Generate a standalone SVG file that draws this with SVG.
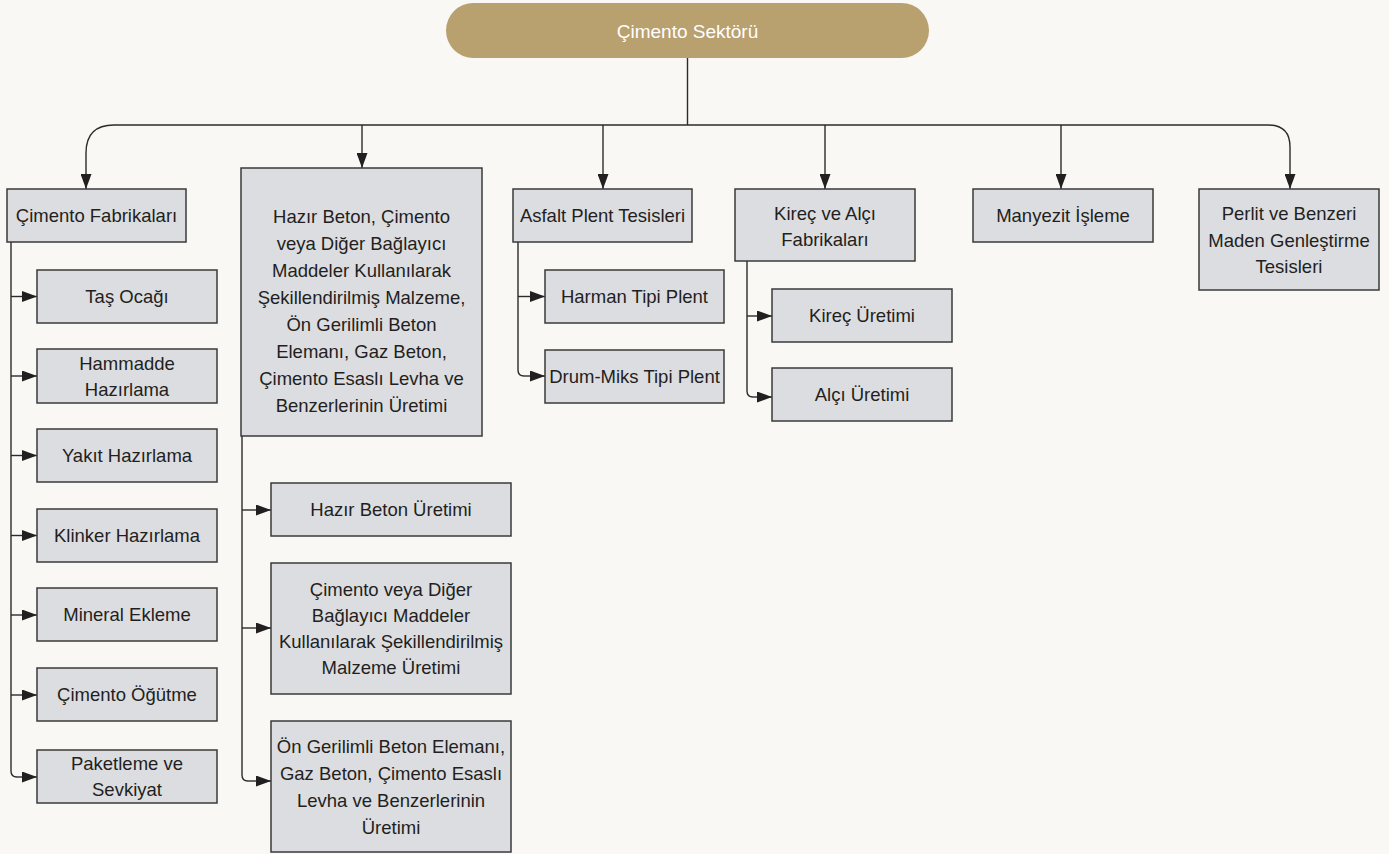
<svg xmlns="http://www.w3.org/2000/svg" width="1389" height="854" viewBox="0 0 1389 854">
<defs>
<marker id="ah" markerUnits="userSpaceOnUse" markerWidth="15" markerHeight="11" refX="15" refY="5.5" orient="auto">
<path d="M0,0 L15,5.5 L0,11 z" fill="#231f20"/>
</marker>
<style>
.bx{fill:#dcdde0;stroke:#3a3a3a;stroke-width:1.5}
.t{font-family:"Liberation Sans",Arial,sans-serif;font-size:18.5px;fill:#231f20;text-anchor:middle}
.c{fill:none;stroke:#2b2b2b;stroke-width:1.4}
.ca{fill:none;stroke:#2b2b2b;stroke-width:1.4;marker-end:url(#ah)}
</style>
</defs>
<rect x="0" y="0" width="1389" height="854" fill="#f9f8f4"/>

<g id="connectors">
<path class="c" d="M687.5,58 V125"/>
<path class="c" d="M114,125 H1268"/>
<path class="ca" d="M114,125 Q86,125 86,153 V189"/>
<path class="ca" d="M1268,125 Q1290,125 1290,147 V189"/>
<path class="ca" d="M362,125 V168"/>
<path class="ca" d="M603,125 V189"/>
<path class="ca" d="M825,125 V189"/>
<path class="ca" d="M1061,125 V189"/>

<path class="c" d="M11,242 V771 Q11,777 17,777"/>
<path class="ca" d="M11,296.5 H37"/>
<path class="ca" d="M11,376 H37"/>
<path class="ca" d="M11,455.5 H37"/>
<path class="ca" d="M11,535.5 H37"/>
<path class="ca" d="M11,615 H37"/>
<path class="ca" d="M11,695 H37"/>
<path class="ca" d="M17,777 H37"/>

<path class="c" d="M242,436 V775 Q242,781 248,781"/>
<path class="ca" d="M242,510 H271"/>
<path class="ca" d="M242,628 H271"/>
<path class="ca" d="M248,781 H271"/>

<path class="c" d="M518,242 V370 Q518,376 524,376"/>
<path class="ca" d="M518,296.5 H545"/>
<path class="ca" d="M524,376 H545"/>

<path class="c" d="M747,261 V391 Q747,397 753,397"/>
<path class="ca" d="M747,316 H772"/>
<path class="ca" d="M753,397 H772"/>
</g>

<g id="root">
<rect x="446" y="3" width="483" height="55" rx="27.5" fill="#b9a06f"/>
<text x="687.5" y="37.5" style="font-family:'Liberation Sans',Arial,sans-serif;font-size:19px;fill:#ffffff;text-anchor:middle">Çimento Sektörü</text>
</g>

<g id="cimento-fabrikalari">
<rect class="bx" x="7" y="189" width="179" height="53"/>
<text class="t" x="96.5" y="222">Çimento Fabrikaları</text>
</g>

<g id="hazir-beton">
<rect class="bx" x="241" y="168" width="241" height="268"/>
<text class="t" x="361.5" y="223">Hazır Beton, Çimento</text>
<text class="t" x="361.5" y="250">veya Diğer Bağlayıcı</text>
<text class="t" x="361.5" y="277">Maddeler Kullanılarak</text>
<text class="t" x="361.5" y="304">Şekillendirilmiş Malzeme,</text>
<text class="t" x="361.5" y="331">Ön Gerilimli Beton</text>
<text class="t" x="361.5" y="358">Elemanı, Gaz Beton,</text>
<text class="t" x="361.5" y="385">Çimento Esaslı Levha ve</text>
<text class="t" x="361.5" y="412">Benzerlerinin Üretimi</text>
</g>

<g id="asfalt">
<rect class="bx" x="513" y="189" width="179" height="53"/>
<text class="t" x="602.5" y="222">Asfalt Plent Tesisleri</text>
</g>

<g id="kirec-alci">
<rect class="bx" x="735" y="189" width="180" height="72"/>
<text class="t" x="825" y="220">Kireç ve Alçı</text>
<text class="t" x="825" y="246">Fabrikaları</text>
</g>

<g id="manyezit">
<rect class="bx" x="973" y="189" width="180" height="53"/>
<text class="t" x="1063" y="222">Manyezit İşleme</text>
</g>

<g id="perlit">
<rect class="bx" x="1199" y="189" width="180" height="101"/>
<text class="t" x="1289" y="220">Perlit ve Benzeri</text>
<text class="t" x="1289" y="247">Maden Genleştirme</text>
<text class="t" x="1289" y="273">Tesisleri</text>
</g>

<g id="tas-ocagi">
<rect class="bx" x="37" y="270" width="180" height="53"/>
<text class="t" x="127" y="303">Taş Ocağı</text>
</g>
<g id="hammadde">
<rect class="bx" x="37" y="349" width="180" height="54"/>
<text class="t" x="127" y="370">Hammadde</text>
<text class="t" x="127" y="396">Hazırlama</text>
</g>
<g id="yakit">
<rect class="bx" x="37" y="429" width="180" height="53"/>
<text class="t" x="127" y="462">Yakıt Hazırlama</text>
</g>
<g id="klinker">
<rect class="bx" x="37" y="509" width="180" height="53"/>
<text class="t" x="127" y="542">Klinker Hazırlama</text>
</g>
<g id="mineral">
<rect class="bx" x="37" y="588" width="180" height="53"/>
<text class="t" x="127" y="621">Mineral Ekleme</text>
</g>
<g id="cimento-ogutme">
<rect class="bx" x="37" y="668" width="180" height="53"/>
<text class="t" x="127" y="701">Çimento Öğütme</text>
</g>
<g id="paketleme">
<rect class="bx" x="37" y="750" width="180" height="53"/>
<text class="t" x="127" y="770">Paketleme ve</text>
<text class="t" x="127" y="796">Sevkiyat</text>
</g>

<g id="hazir-beton-uretimi">
<rect class="bx" x="271" y="483" width="240" height="53"/>
<text class="t" x="391" y="516">Hazır Beton Üretimi</text>
</g>
<g id="cimento-veya">
<rect class="bx" x="271" y="563" width="240" height="131"/>
<text class="t" x="391" y="596">Çimento veya Diğer</text>
<text class="t" x="391" y="622">Bağlayıcı Maddeler</text>
<text class="t" x="391" y="648">Kullanılarak Şekillendirilmiş</text>
<text class="t" x="391" y="674">Malzeme Üretimi</text>
</g>
<g id="on-gerilimli">
<rect class="bx" x="271" y="721" width="240" height="131"/>
<text class="t" x="391" y="753">Ön Gerilimli Beton Elemanı,</text>
<text class="t" x="391" y="780">Gaz Beton, Çimento Esaslı</text>
<text class="t" x="391" y="807">Levha ve Benzerlerinin</text>
<text class="t" x="391" y="834">Üretimi</text>
</g>

<g id="harman">
<rect class="bx" x="545" y="270" width="179" height="53"/>
<text class="t" x="634.5" y="303">Harman Tipi Plent</text>
</g>
<g id="drum-miks">
<rect class="bx" x="545" y="350" width="179" height="53"/>
<text class="t" x="634.5" y="383">Drum-Miks Tipi Plent</text>
</g>

<g id="kirec-uretimi">
<rect class="bx" x="772" y="289" width="180" height="53"/>
<text class="t" x="862" y="322">Kireç Üretimi</text>
</g>
<g id="alci-uretimi">
<rect class="bx" x="772" y="368" width="180" height="53"/>
<text class="t" x="862" y="401">Alçı Üretimi</text>
</g>
</svg>
